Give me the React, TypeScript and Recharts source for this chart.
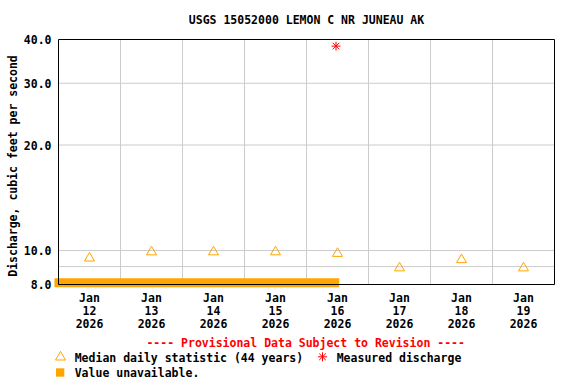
import React from 'react';
import {
  ScatterChart,
  Scatter,
  XAxis,
  YAxis,
  CartesianGrid,
  ReferenceArea,
} from 'recharts';

// day index 0 = Jan 12 (noon), x axis runs from midnight Jan 12 to midnight Jan 20
const month = 'Jan';
const year = '2026';
const days = ['12', '13', '14', '15', '16', '17', '18', '19'];
const dayIndex = [0, 1, 2, 3, 4, 5, 6, 7];
const dayBoundaries = [0.5, 1.5, 2.5, 3.5, 4.5, 5.5, 6.5];
const xDomain = [-0.5, 7.5];

const medianValues = [9.6, 10.0, 10.0, 10.0, 9.9, 9.0, 9.5, 9.0];
const measuredTimes = [3.976];
const measuredValues = [38.3];

// "value unavailable" band, drawn along the bottom of the plot
const unavailableSpan = [-0.565, 4.027];
const unavailableLevels = [7.86, 8.33];

const yDomain = [8, 40];
const yTicks = [8, 9, 10, 20, 30, 40];
const yLabelled = [8, 10, 20, 30, 40];

const ORANGE = '#FFA500';
const RED = '#FF0000';
const GRID = '#cccccc';
const FONT = "'DejaVu Sans Mono', 'Liberation Mono', monospace";
const FONT_SIZE = 11.5;

const medianData = dayIndex.map((x, i) => ({ x, y: medianValues[i] }));
const measuredData = measuredTimes.map((x, i) => ({ x, y: measuredValues[i] }));

const Triangle = ({ cx, cy }: any) => (
  <polygon
    points={`${cx},${cy - 4.3} ${cx - 5},${cy + 4.3} ${cx + 5},${cy + 4.3}`}
    fill="none"
    stroke={ORANGE}
    strokeWidth={1}
  />
);

const Star = ({ cx, cy }: any) => (
  <g stroke={RED} strokeWidth={1}>
    <line x1={cx} y1={cy - 4.5} x2={cx} y2={cy + 4.5} />
    <line x1={cx - 4.5} y1={cy} x2={cx + 4.5} y2={cy} />
    <line x1={cx - 3.3} y1={cy - 3.3} x2={cx + 3.3} y2={cy + 3.3} />
    <line x1={cx - 3.3} y1={cy + 3.3} x2={cx + 3.3} y2={cy - 3.3} />
  </g>
);

const XTick = ({ x, y, payload }: any) => (
  <text
    x={x}
    y={y}
    textAnchor="middle"
    fontFamily={FONT}
    fontWeight="bold"
    fontSize={FONT_SIZE}
    fill="#000"
  >
    <tspan x={x} dy={17.5}>{month}</tspan>
    <tspan x={x} dy={13}>{days[payload.value]}</tspan>
    <tspan x={x} dy={13}>{year}</tspan>
  </text>
);

const YTick = ({ x, y, payload }: any) => {
  if (!yLabelled.includes(payload.value)) return <g />;
  return (
    <text
      x={x}
      y={y + 4.5}
      textAnchor="end"
      fontFamily={FONT}
      fontWeight="bold"
      fontSize={FONT_SIZE}
      fill="#000"
    >
      {payload.value.toFixed(1)}
    </text>
  );
};

const textStyle = {
  fontFamily: FONT,
  fontWeight: 'bold' as const,
  fontSize: FONT_SIZE,
};

export default function App() {
  return (
    <div style={{ position: 'absolute', left: 0, top: 0, width: 576, height: 384, background: '#fff' }}>
      <ScatterChart
        width={576}
        height={384}
        margin={{ top: 39.5, right: 21.5, bottom: 49.5, left: 0.5 }}
      >
        <CartesianGrid stroke={GRID} verticalValues={dayBoundaries} />
        <XAxis
          type="number"
          dataKey="x"
          domain={xDomain}
          ticks={dayIndex}
          interval={0}
          tick={<XTick />}
          tickLine={false}
          axisLine={false}
          tickSize={0}
          tickMargin={0}
          height={50}
        />
        <YAxis
          type="number"
          dataKey="y"
          scale="log"
          domain={yDomain}
          ticks={yTicks}
          interval={0}
          tick={<YTick />}
          tickLine={false}
          axisLine={false}
          tickSize={0}
          tickMargin={7}
          width={58}
        />
        <ReferenceArea
          x1={unavailableSpan[0]}
          x2={unavailableSpan[1]}
          y1={unavailableLevels[0]}
          y2={unavailableLevels[1]}
          fill={ORANGE}
          fillOpacity={1}
          stroke="none"
          ifOverflow="visible"
        />
        <ReferenceArea
          x1={xDomain[0]}
          x2={xDomain[1]}
          y1={yDomain[0]}
          y2={yDomain[1]}
          fill="none"
          stroke="#000"
          strokeWidth={1}
          ifOverflow="visible"
        />
        <Scatter data={medianData} shape={<Triangle />} isAnimationActive={false} />
        <Scatter data={measuredData} shape={<Star />} isAnimationActive={false} />
      </ScatterChart>
      <svg
        width={576}
        height={384}
        style={{ position: 'absolute', left: 0, top: 0, pointerEvents: 'none' }}
      >
        <text x={306.5} y={24} textAnchor="middle" fill="#000" style={textStyle}>
          USGS 15052000 LEMON C NR JUNEAU AK
        </text>
        <text
          x={0}
          y={0}
          transform="translate(16.5,166) rotate(-90)"
          textAnchor="middle"
          fill="#000"
          style={textStyle}
        >
          Discharge, cubic feet per second
        </text>
        <text x={305.7} y={347} textAnchor="middle" fill={RED} style={textStyle}>
          ---- Provisional Data Subject to Revision ----
        </text>
        <Triangle cx={60.5} cy={355.7} />
        <text x={74.7} y={361.5} fill="#000" style={textStyle}>
          Median daily statistic (44 years)
        </text>
        <Star cx={322.5} cy={356.8} />
        <text x={336.7} y={361.5} fill="#000" style={textStyle}>
          Measured discharge
        </text>
        <rect x={56} y={368.3} width={8.3} height={8.4} fill={ORANGE} />
        <text x={74.7} y={376.7} fill="#000" style={textStyle}>
          Value unavailable.
        </text>
      </svg>
    </div>
  );
}
